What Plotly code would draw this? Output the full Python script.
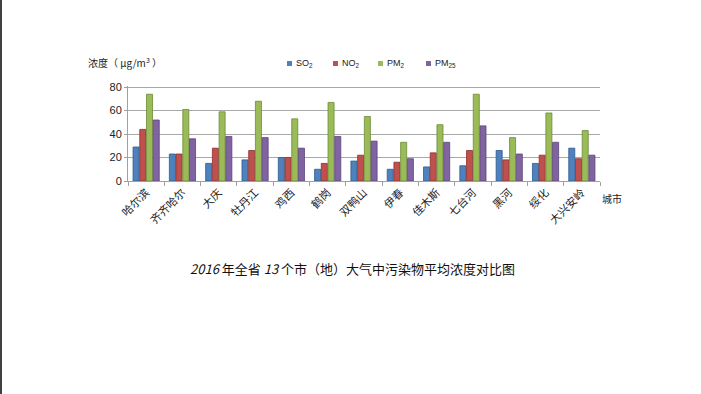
import plotly.graph_objects as go

cities = ["哈尔滨", "齐齐哈尔", "大庆", "牡丹江", "鸡西", "鹤岗", "双鸭山",
          "伊春", "佳木斯", "七台河", "黑河", "绥化", "大兴安岭"]
so2 = [29, 23, 15, 18, 20, 10, 17, 10, 12, 13, 26, 15, 28]
no2 = [44, 23, 28, 26, 20, 15, 22, 16, 24, 26, 18, 22, 19]
pm10 = [74, 61, 59, 68, 53, 67, 55, 33, 48, 74, 37, 58, 43]
pm25 = [52, 36, 38, 37, 28, 38, 34, 19, 33, 47, 23, 33, 22]
series_names = ["SO<sub>2</sub>", "NO<sub>2</sub>", "PM<sub>2</sub>", "PM<sub>25</sub>"]
y_ticks = [0, 20, 40, 60, 80]

colors = ["#4F81BD", "#C0504D", "#9BBB59", "#8064A2"]
lines = ["#2c5a8f", "#8c2d2a", "#6c8a35", "#5a4478"]

W, H = 701, 394
L, R, T, B = 128, 101, 86, 213
pw, ph = W - L - R, H - T - B

def px(x):
    return (x - L) / pw

def py(y):
    return (H - B - y) / ph

fig = go.Figure()
for name, vals, c, lc in zip(series_names, [so2, no2, pm10, pm25], colors, lines):
    fig.add_trace(go.Bar(x=cities, y=vals, name=name, showlegend=False,
                         marker=dict(color=c, line=dict(color=lc, width=0.8))))

font = "Noto Sans CJK SC, Liberation Sans, sans-serif"

# manual legend (squares + labels)
legend_x = [287, 333, 378, 426]
shapes = [
    dict(type="line", xref="paper", yref="paper", x0=px(1), x1=px(1), y0=py(0), y1=py(H),
         line=dict(color="#404040", width=2)),
]
annotations = [
    dict(text="浓度（ μg/m<sup>3</sup> ）", x=px(86), y=py(62), xref="paper", yref="paper",
         xanchor="left", yanchor="middle", showarrow=False, font=dict(size=10, family=font)),
    dict(text="城市", x=px(600), y=py(198), xref="paper", yref="paper",
         xanchor="left", yanchor="middle", showarrow=False, font=dict(size=10, family=font)),
    dict(text="<i>2016</i> 年全省 <i>13</i> 个市（地）大气中污染物平均浓度对比图",
         x=px(352), y=py(268), xref="paper", yref="paper",
         xanchor="center", yanchor="middle", showarrow=False,
         font=dict(size=13, family=font, color="#111")),
]
for lx, name, c in zip(legend_x, series_names, colors):
    shapes.append(dict(type="rect", xref="paper", yref="paper",
                       x0=px(lx), x1=px(lx + 5), y0=py(66), y1=py(61),
                       fillcolor=c, line=dict(width=0)))
    annotations.append(dict(text=name, x=px(lx + 7), y=py(63.5), xref="paper", yref="paper",
                            xanchor="left", yanchor="middle", showarrow=False,
                            font=dict(size=9, family="Liberation Sans, sans-serif", color="#222")))

fig.update_layout(
    width=W, height=H,
    margin=dict(l=L, r=R, t=T, b=B),
    paper_bgcolor="white", plot_bgcolor="white",
    barmode="group", bargap=0.26, bargroupgap=0.1,
    font=dict(family=font, size=10, color="#222"),
    showlegend=False,
    xaxis=dict(tickangle=-45, showgrid=False, showline=True, linecolor="#a0a0a0",
               ticks="outside", ticklen=4, tickcolor="#a0a0a0", tickson="boundaries",
               tickfont=dict(size=11, family=font)),
    yaxis=dict(range=[0, 81], tickvals=y_ticks, showgrid=True, gridcolor="#a8a8a8",
               gridwidth=1, showline=True, linecolor="#a0a0a0", zeroline=False,
               ticks="outside", ticklen=3, tickcolor="#a0a0a0",
               tickfont=dict(size=11, family="Liberation Sans, sans-serif")),
    annotations=annotations,
    shapes=shapes,
)

fig.write_html("out.html", config={"displayModeBar": False},
               post_script="document.body.style.margin='0';document.body.style.padding='0';")
